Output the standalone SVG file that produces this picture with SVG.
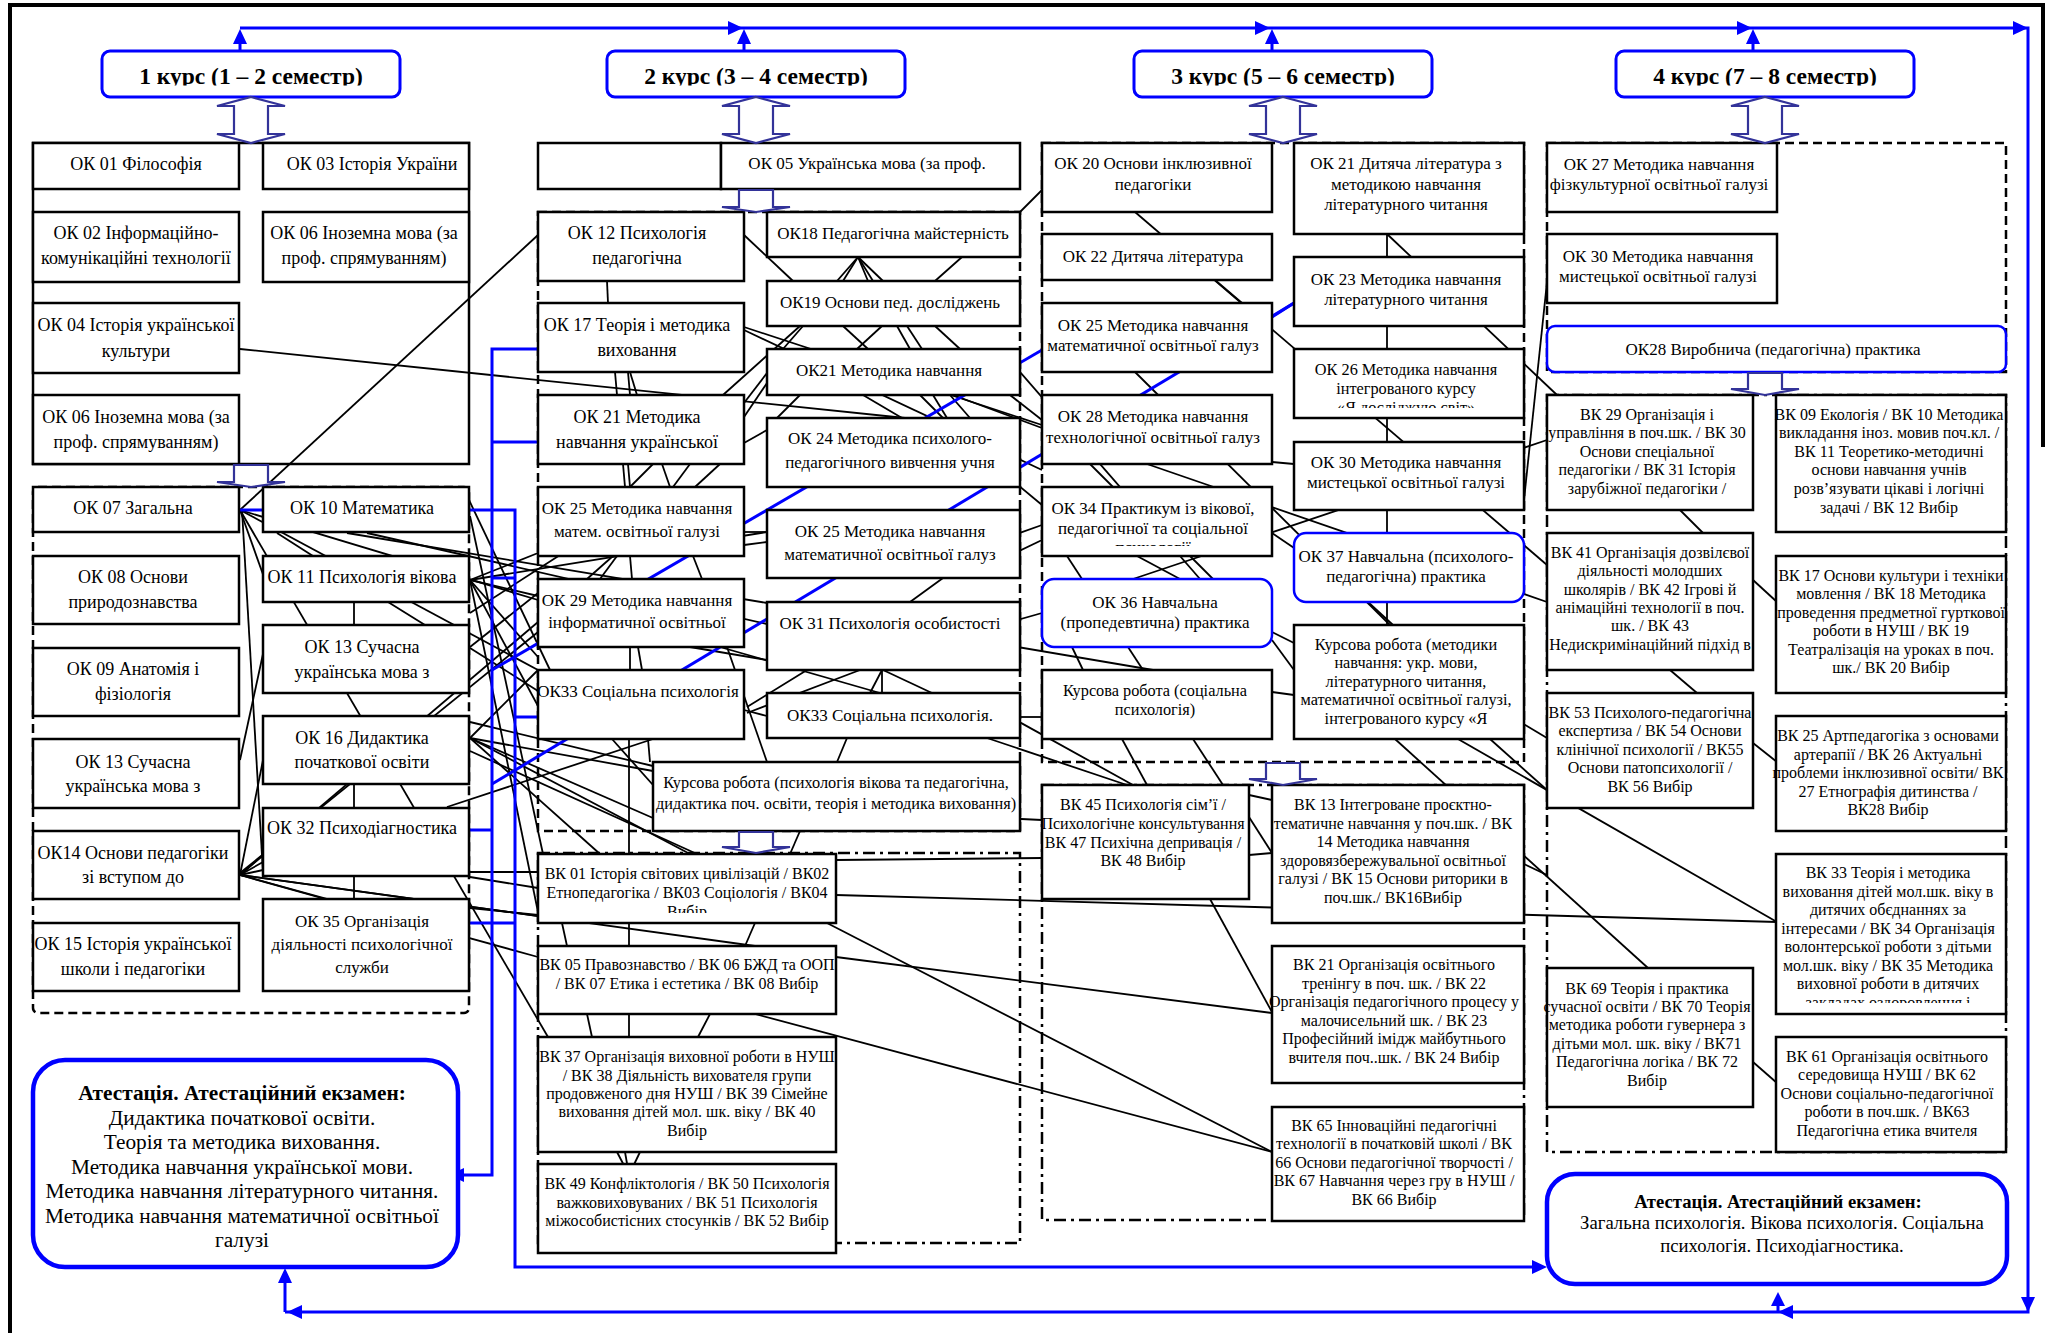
<svg xmlns="http://www.w3.org/2000/svg" width="2053" height="1333" viewBox="0 0 2053 1333">
<style>
text{font-family:"Liberation Serif","Times New Roman",serif;fill:#000;text-anchor:middle}
.t18{font-size:18px}.t17{font-size:17px}.t16{font-size:16.3px}.t15{font-size:16px}
.tt{font-size:23.5px;font-weight:bold}
.ta{font-size:21.3px}.tb{font-size:18.7px}
.b{font-weight:bold}
.box{fill:#fff;stroke:#000;stroke-width:2.5}
.bbox{fill:#fff;stroke:#0000ff;stroke-width:2.5}
.kbox{fill:#fff;stroke:#0000ff;stroke-width:3}
.att{fill:#fff;stroke:#0000ff;stroke-width:4.5}
.gd{fill:none;stroke:#000;stroke-width:2.5;stroke-dasharray:9 5}
.gdd{fill:none;stroke:#000;stroke-width:2.5;stroke-dasharray:12 5 3 5}
.gs{fill:none;stroke:#000;stroke-width:2.5}
.ln{stroke:#000;stroke-width:1.8;fill:none}
.bl{stroke:#0000ff;stroke-width:3;fill:none}
.ah{fill:#0000ff}
.ha{fill:#fff;stroke:#333399;stroke-width:2.2}
</style>
<defs>
<clipPath id="ct"><rect x="0" y="40" width="2053" height="45.5"/></clipPath>
<clipPath id="c408"><rect x="0" y="0" width="2053" height="408"/></clipPath>
<clipPath id="c546"><rect x="0" y="0" width="2053" height="546"/></clipPath>
<clipPath id="c913"><rect x="0" y="0" width="2053" height="913"/></clipPath>
<clipPath id="c1003"><rect x="0" y="0" width="2053" height="1003"/></clipPath>
</defs>
<rect width="2053" height="1333" fill="#fff"/>
<path d="M10,1333 V5 H2043 V447" fill="none" stroke="#000" stroke-width="4"/>

<g id="groups">
<rect class="gs" x="33" y="143" width="436" height="321"/>
<rect class="gd" x="33" y="487" width="436" height="526" rx="5"/>
<rect class="gd" x="538" y="212" width="482" height="619"/>
<rect class="gdd" x="538" y="853" width="482" height="390"/>
<rect class="gd" x="1042" y="143" width="482" height="619"/>
<rect class="gdd" x="1042" y="785" width="482" height="435"/>
<rect class="gd" x="1547" y="143" width="459" height="229"/>
<rect class="gdd" x="1547" y="395" width="459" height="757"/>
</g>

<g id="connectors">
<g class="ln">
<line x1="240" y1="510" x2="538" y2="235"/>
<line x1="240" y1="349" x2="905" y2="418"/>
<line x1="240" y1="510" x2="548" y2="1037"/>
<line x1="240" y1="510" x2="538" y2="600"/>
<line x1="240" y1="510" x2="538" y2="670"/>
<line x1="240" y1="510" x2="265" y2="580"/>
<line x1="242" y1="510" x2="263" y2="873"/>
<line x1="277" y1="533" x2="313" y2="556"/>
<line x1="347" y1="533" x2="767" y2="603"/>
<line x1="367" y1="533" x2="767" y2="624"/>
<line x1="469" y1="500" x2="550" y2="670"/>
<line x1="470" y1="516" x2="543" y2="854"/>
<line x1="354" y1="602" x2="354" y2="625"/>
<line x1="388" y1="602" x2="425" y2="625"/>
<line x1="470" y1="580" x2="538" y2="553"/>
<line x1="470" y1="580" x2="767" y2="532"/>
<line x1="470" y1="580" x2="538" y2="596"/>
<line x1="470" y1="580" x2="538" y2="657"/>
<line x1="470" y1="580" x2="538" y2="706"/>
<line x1="470" y1="580" x2="538" y2="912"/>
<line x1="470" y1="647" x2="538" y2="593"/>
<line x1="470" y1="648" x2="538" y2="691"/>
<line x1="240" y1="875" x2="538" y2="622"/>
<line x1="240" y1="873" x2="538" y2="632"/>
<line x1="240" y1="760" x2="266" y2="640"/>
<line x1="240" y1="875" x2="265" y2="750"/>
<line x1="240" y1="875" x2="263" y2="855"/>
<line x1="240" y1="875" x2="263" y2="862"/>
<line x1="240" y1="875" x2="263" y2="870"/>
<line x1="240" y1="875" x2="325" y2="899"/>
<line x1="240" y1="875" x2="538" y2="916"/>
<line x1="240" y1="875" x2="755" y2="946"/>
<line x1="240" y1="875" x2="538" y2="957"/>
<line x1="470" y1="738" x2="538" y2="670"/>
<line x1="470" y1="738" x2="653" y2="771"/>
<line x1="470" y1="738" x2="653" y2="818"/>
<line x1="470" y1="738" x2="690" y2="854"/>
<line x1="470" y1="738" x2="600" y2="854"/>
<line x1="470" y1="722" x2="653" y2="766"/>
<line x1="470" y1="751" x2="697" y2="854"/>
<line x1="447" y1="807" x2="653" y2="739"/>
<line x1="470" y1="872" x2="538" y2="872"/>
<line x1="470" y1="877" x2="538" y2="888"/>
<line x1="470" y1="908" x2="538" y2="915"/>
<line x1="354" y1="784" x2="354" y2="808"/>
<line x1="354" y1="876" x2="354" y2="899"/>
<line x1="560" y1="555" x2="470" y2="613"/>
<line x1="744" y1="235" x2="793" y2="281"/>
<line x1="607" y1="281" x2="608" y2="303"/>
<line x1="858" y1="257" x2="837" y2="281"/>
<line x1="858" y1="257" x2="843" y2="281"/>
<line x1="858" y1="257" x2="868" y2="281"/>
<line x1="858" y1="257" x2="873" y2="281"/>
<line x1="858" y1="257" x2="883" y2="281"/>
<line x1="962" y1="257" x2="935" y2="281"/>
<line x1="723" y1="395" x2="800" y2="326"/>
<line x1="843" y1="326" x2="868" y2="349"/>
<line x1="882" y1="326" x2="857" y2="349"/>
<line x1="897" y1="326" x2="910" y2="349"/>
<line x1="907" y1="326" x2="922" y2="349"/>
<line x1="935" y1="326" x2="960" y2="349"/>
<line x1="803" y1="326" x2="783" y2="349"/>
<line x1="744" y1="327" x2="1042" y2="425"/>
<line x1="744" y1="330" x2="1042" y2="470"/>
<line x1="800" y1="395" x2="777" y2="418"/>
<line x1="863" y1="395" x2="902" y2="418"/>
<line x1="920" y1="395" x2="943" y2="418"/>
<line x1="933" y1="395" x2="947" y2="418"/>
<line x1="950" y1="395" x2="970" y2="418"/>
<line x1="953" y1="395" x2="1042" y2="428"/>
<line x1="615" y1="372" x2="617" y2="395"/>
<line x1="628" y1="372" x2="630" y2="395"/>
<line x1="630" y1="372" x2="637" y2="395"/>
<line x1="744" y1="403" x2="767" y2="373"/>
<line x1="744" y1="417" x2="767" y2="383"/>
<line x1="744" y1="443" x2="767" y2="430"/>
<line x1="623" y1="464" x2="625" y2="487"/>
<line x1="628" y1="464" x2="630" y2="487"/>
<line x1="653" y1="464" x2="630" y2="487"/>
<line x1="662" y1="464" x2="670" y2="487"/>
<line x1="690" y1="464" x2="673" y2="487"/>
<line x1="720" y1="464" x2="695" y2="487"/>
<line x1="744" y1="532" x2="767" y2="532"/>
<line x1="744" y1="545" x2="767" y2="542"/>
<line x1="613" y1="556" x2="587" y2="579"/>
<line x1="617" y1="556" x2="600" y2="579"/>
<line x1="630" y1="556" x2="632" y2="579"/>
<line x1="693" y1="556" x2="702" y2="579"/>
<line x1="943" y1="578" x2="910" y2="602"/>
<line x1="630" y1="647" x2="630" y2="670"/>
<line x1="638" y1="647" x2="642" y2="670"/>
<line x1="690" y1="647" x2="767" y2="660"/>
<line x1="720" y1="647" x2="880" y2="693"/>
<line x1="727" y1="647" x2="767" y2="762"/>
<line x1="807" y1="670" x2="747" y2="707"/>
<line x1="860" y1="670" x2="747" y2="713"/>
<line x1="882" y1="670" x2="870" y2="693"/>
<line x1="882" y1="670" x2="882" y2="693"/>
<line x1="883" y1="670" x2="932" y2="693"/>
<line x1="744" y1="710" x2="767" y2="716"/>
<line x1="612" y1="739" x2="653" y2="785"/>
<line x1="648" y1="739" x2="650" y2="762"/>
<line x1="629" y1="739" x2="629" y2="854"/>
<line x1="847" y1="738" x2="837" y2="762"/>
<line x1="790" y1="854" x2="800" y2="831"/>
<line x1="562" y1="923" x2="567" y2="946"/>
<line x1="629" y1="923" x2="629" y2="946"/>
<line x1="755" y1="923" x2="745" y2="946"/>
<line x1="587" y1="1014" x2="592" y2="1037"/>
<line x1="629" y1="1014" x2="629" y2="1037"/>
<line x1="710" y1="1014" x2="698" y2="1037"/>
<line x1="617" y1="1152" x2="629" y2="1175"/>
<line x1="640" y1="1152" x2="629" y2="1175"/>
<line x1="625" y1="1152" x2="629" y2="1175"/>
<line x1="836" y1="895" x2="1777" y2="922"/>
<line x1="827" y1="923" x2="1272" y2="1152"/>
<line x1="836" y1="957" x2="1272" y2="1013"/>
<line x1="755" y1="1014" x2="1272" y2="1152"/>
<line x1="836" y1="860" x2="1042" y2="858"/>
<line x1="1000" y1="818" x2="1042" y2="820"/>
<line x1="1020" y1="212" x2="1042" y2="190"/>
<line x1="1000" y1="349" x2="1200" y2="579"/>
<line x1="1010" y1="395" x2="1042" y2="420"/>
<line x1="1000" y1="470" x2="1042" y2="505"/>
<line x1="1000" y1="540" x2="1042" y2="525"/>
<line x1="1000" y1="560" x2="1042" y2="540"/>
<line x1="1042" y1="613" x2="1000" y2="625"/>
<line x1="1000" y1="644" x2="1153" y2="670"/>
<line x1="1020" y1="717" x2="1042" y2="717"/>
<line x1="1005" y1="714" x2="1133" y2="785"/>
<line x1="987" y1="738" x2="1127" y2="785"/>
<line x1="1135" y1="212" x2="1547" y2="565"/>
<line x1="1387" y1="234" x2="1557" y2="395"/>
<line x1="1147" y1="464" x2="1547" y2="602"/>
<line x1="1135" y1="372" x2="1390" y2="625"/>
<line x1="1133" y1="579" x2="1547" y2="440"/>
<line x1="1524" y1="500" x2="1547" y2="282"/>
<line x1="1215" y1="280" x2="1242" y2="303"/>
<line x1="1387" y1="234" x2="1387" y2="257"/>
<line x1="1387" y1="326" x2="1387" y2="349"/>
<line x1="1387" y1="418" x2="1387" y2="442"/>
<line x1="1090" y1="464" x2="1113" y2="487"/>
<line x1="1272" y1="462" x2="1294" y2="464"/>
<line x1="1387" y1="510" x2="1387" y2="533"/>
<line x1="1067" y1="556" x2="1082" y2="579"/>
<line x1="1137" y1="556" x2="1180" y2="579"/>
<line x1="1190" y1="556" x2="1213" y2="579"/>
<line x1="1272" y1="533" x2="1297" y2="550"/>
<line x1="1272" y1="632" x2="1294" y2="643"/>
<line x1="1272" y1="640" x2="1294" y2="670"/>
<line x1="1072" y1="647" x2="1083" y2="670"/>
<line x1="1128" y1="647" x2="1143" y2="670"/>
<line x1="1387" y1="602" x2="1387" y2="625"/>
<line x1="1368" y1="602" x2="1393" y2="625"/>
<line x1="1272" y1="692" x2="1294" y2="695"/>
<line x1="1122" y1="739" x2="1147" y2="785"/>
<line x1="1193" y1="739" x2="1223" y2="785"/>
<line x1="1395" y1="739" x2="1648" y2="968"/>
<line x1="1458" y1="739" x2="1777" y2="922"/>
<line x1="1450" y1="680" x2="1547" y2="738"/>
<line x1="1490" y1="739" x2="1547" y2="790"/>
<line x1="1249" y1="795" x2="1272" y2="800"/>
<line x1="1249" y1="817" x2="1272" y2="853"/>
<line x1="1249" y1="855" x2="1272" y2="853"/>
<line x1="1210" y1="899" x2="1272" y2="1012"/>
<line x1="1524" y1="864" x2="1547" y2="875"/>
<line x1="1680" y1="510" x2="1703" y2="533"/>
<line x1="1670" y1="670" x2="1697" y2="693"/>
<line x1="1753" y1="580" x2="1777" y2="602"/>
<line x1="1753" y1="743" x2="1777" y2="762"/>
<line x1="1753" y1="1062" x2="1777" y2="1083"/>
</g>
<g class="bl">
<path d="M240,28 H2028 V1312 H285"/>
<line x1="240" y1="51" x2="240" y2="40"/>
<line x1="744" y1="51" x2="744" y2="40"/>
<line x1="1272" y1="51" x2="1272" y2="40"/>
<line x1="1753" y1="51" x2="1753" y2="40"/>
<line x1="285" y1="1312" x2="285" y2="1280"/>
<line x1="1778" y1="1312" x2="1778" y2="1304"/>
<path d="M538,349 H492 V1175 H462"/>
<line x1="492" y1="442" x2="538" y2="442"/>
<line x1="469" y1="830" x2="492" y2="830"/>
<path d="M240,510 H515 V1267 H1534"/>
<line x1="492" y1="578" x2="515" y2="578"/>
<line x1="515" y1="717" x2="538" y2="717"/>
<line x1="469" y1="923" x2="515" y2="923"/>
<line x1="492" y1="670" x2="1042" y2="350"/>
<line x1="492" y1="784" x2="1294" y2="303"/>
<line x1="1272" y1="317" x2="1294" y2="303"/>
</g>
<g class="ah">
<polygon points="743,28 728,21 728,35"/>
<polygon points="1270,28 1255,21 1255,35"/>
<polygon points="1752,28 1737,21 1737,35"/>
<polygon points="2028,28 2013,21 2013,35"/>
<polygon points="240,29 233,44 247,44"/>
<polygon points="744,29 737,44 751,44"/>
<polygon points="1272,29 1265,44 1279,44"/>
<polygon points="1753,29 1746,44 1760,44"/>
<polygon points="2028,1312 2021,1297 2035,1297"/>
<polygon points="1778,1312 1793,1305 1793,1319"/>
<polygon points="287,1312 302,1305 302,1319"/>
<polygon points="285,1268 278,1283 292,1283"/>
<polygon points="1778,1292 1771,1306 1785,1306"/>
<polygon points="449,1175 464,1168 464,1182"/>
<polygon points="1547,1267 1532,1260 1532,1274"/>
</g>
</g>

<g id="k1"><rect class="kbox" x="102" y="51" width="298" height="46" rx="8"/><text class="tt" x="251" y="84" clip-path="url(#ct)">1 курс (1 – 2 семестр)</text></g>
<g id="k2"><rect class="kbox" x="607" y="51" width="298" height="46" rx="8"/><text class="tt" x="756" y="84" clip-path="url(#ct)">2 курс (3 – 4 семестр)</text></g>
<g id="k3"><rect class="kbox" x="1134" y="51" width="298" height="46" rx="8"/><text class="tt" x="1283" y="84" clip-path="url(#ct)">3 курс (5 – 6 семестр)</text></g>
<g id="k4"><rect class="kbox" x="1616" y="51" width="298" height="46" rx="8"/><text class="tt" x="1765" y="84" clip-path="url(#ct)">4 курс (7 – 8 семестр)</text></g>

<g id="ok01"><rect class="box" x="33" y="143" width="206" height="46"/><text class="t18" x="136" y="170">ОК 01 Філософія</text></g>
<g id="ok03"><rect class="box" x="263" y="143" width="206" height="46"/><text class="t18" x="372" y="170">ОК 03 Історія України</text></g>
<g id="ok02"><rect class="box" x="33" y="212" width="206" height="70"/><text class="t18" x="136" y="239">ОК 02 Інформаційно-</text><text class="t18" x="136" y="264">комунікаційні технології</text></g>
<g id="ok06a"><rect class="box" x="263" y="212" width="206" height="70"/><text class="t18" x="364" y="239">ОК 06 Іноземна мова (за</text><text class="t18" x="364" y="264">проф. спрямуванням)</text></g>
<g id="ok04"><rect class="box" x="33" y="303" width="206" height="70"/><text class="t18" x="136" y="331">ОК 04 Історія української</text><text class="t18" x="136" y="357">культури</text></g>
<g id="ok06b"><rect class="box" x="33" y="395" width="206" height="69"/><text class="t18" x="136" y="423">ОК 06 Іноземна мова (за</text><text class="t18" x="136" y="448">проф. спрямуванням)</text></g>
<g id="ok07"><rect class="box" x="33" y="487" width="206" height="45"/><text class="t18" x="133" y="514">ОК 07 Загальна</text></g>
<g id="ok10"><rect class="box" x="263" y="487" width="206" height="45"/><text class="t18" x="362" y="514">ОК 10 Математика</text></g>
<g id="ok08"><rect class="box" x="33" y="556" width="206" height="68"/><text class="t18" x="133" y="583">ОК 08 Основи</text><text class="t18" x="133" y="608">природознавства</text></g>
<g id="ok11"><rect class="box" x="263" y="556" width="206" height="46"/><text class="t18" x="362" y="583">ОК 11 Психологія вікова</text></g>
<g id="ok13r"><rect class="box" x="263" y="625" width="206" height="68"/><text class="t18" x="362" y="653">ОК 13 Сучасна</text><text class="t18" x="362" y="678">українська мова з</text></g>
<g id="ok09"><rect class="box" x="33" y="648" width="206" height="68"/><text class="t18" x="133" y="675">ОК 09 Анатомія і</text><text class="t18" x="133" y="700">фізіологія</text></g>
<g id="ok16"><rect class="box" x="263" y="716" width="206" height="68"/><text class="t18" x="362" y="744">ОК 16 Дидактика</text><text class="t18" x="362" y="768">початкової освіти</text></g>
<g id="ok13l"><rect class="box" x="33" y="739" width="206" height="69"/><text class="t18" x="133" y="768">ОК 13 Сучасна</text><text class="t18" x="133" y="792">українська мова з</text></g>
<g id="ok32"><rect class="box" x="263" y="808" width="206" height="68"/><text class="t18" x="362" y="834">ОК 32 Психодіагностика</text></g>
<g id="ok14"><rect class="box" x="33" y="831" width="206" height="68"/><text class="t18" x="133" y="859">ОК14 Основи педагогіки</text><text class="t18" x="133" y="883">зі вступом до</text></g>
<g id="ok35"><rect class="box" x="263" y="899" width="206" height="92"/><text class="t17" x="362" y="927">ОК 35 Організація</text><text class="t17" x="362" y="950">діяльності психологічної</text><text class="t17" x="362" y="973">служби</text></g>
<g id="ok15"><rect class="box" x="33" y="923" width="206" height="68"/><text class="t18" x="133" y="950">ОК 15 Історія української</text><text class="t18" x="133" y="975">школи і педагогіки</text></g>
<g id="att1"><rect class="att" x="33" y="1060" width="425" height="207" rx="32"/>
<text class="ta b" x="242" y="1100">Атестація. Атестаційний екзамен:</text>
<text class="ta" x="242" y="1125">Дидактика початкової освіти.</text>
<text class="ta" x="242" y="1149">Теорія та методика виховання.</text>
<text class="ta" x="242" y="1174">Методика навчання української мови.</text>
<text class="ta" x="242" y="1198">Методика навчання літературного читання.</text>
<text class="ta" x="242" y="1223">Методика навчання математичної освітньої</text>
<text class="ta" x="242" y="1247">галузі</text></g>

<g id="blank"><rect class="box" x="538" y="143" width="183" height="46"/></g>
<g id="ok05"><rect class="box" x="721" y="143" width="299" height="46"/><text class="t17" x="867" y="169">ОК 05 Українська мова (за проф.</text></g>
<g id="ok12"><rect class="box" x="538" y="212" width="206" height="69"/><text class="t18" x="637" y="239">ОК 12 Психологія</text><text class="t18" x="637" y="264">педагогічна</text></g>
<g id="ok18"><rect class="box" x="767" y="212" width="253" height="45"/><text class="t17" x="893" y="239">ОК18 Педагогічна майстерність</text></g>
<g id="ok19"><rect class="box" x="767" y="281" width="253" height="45"/><text class="t17" x="890" y="308">ОК19 Основи пед. досліджень</text></g>
<g id="ok17"><rect class="box" x="538" y="303" width="206" height="69"/><text class="t18" x="637" y="331">ОК 17 Теорія і методика</text><text class="t18" x="637" y="356">виховання</text></g>
<g id="ok21"><rect class="box" x="767" y="349" width="253" height="46"/><text class="t17" x="889" y="376">ОК21 Методика навчання</text></g>
<g id="ok21u"><rect class="box" x="538" y="395" width="206" height="69"/><text class="t18" x="637" y="423">ОК 21 Методика</text><text class="t18" x="637" y="448">навчання української</text></g>
<g id="ok24"><rect class="box" x="767" y="418" width="253" height="69"/><text class="t17" x="890" y="444">ОК 24 Методика психолого-</text><text class="t17" x="890" y="468">педагогічного вивчення учня</text></g>
<g id="ok25a"><rect class="box" x="538" y="487" width="206" height="69"/><text class="t17" x="637" y="514">ОК 25 Методика навчання</text><text class="t17" x="637" y="537">матем. освітньої галузі</text></g>
<g id="ok25b"><rect class="box" x="767" y="510" width="253" height="68"/><text class="t17" x="890" y="537">ОК 25 Методика навчання</text><text class="t17" x="890" y="560">математичної освітньої галуз</text></g>
<g id="ok29"><rect class="box" x="538" y="579" width="206" height="68"/><text class="t17" x="637" y="606">ОК 29 Методика навчання</text><text class="t17" x="637" y="628">інформатичної освітньої</text></g>
<g id="ok31"><rect class="box" x="767" y="602" width="253" height="68"/><text class="t17" x="890" y="629">ОК 31 Психологія особистості</text></g>
<g id="ok33a"><rect class="box" x="538" y="670" width="206" height="69"/><text class="t17" x="638" y="697">ОК33 Соціальна психологія</text></g>
<g id="ok33b"><rect class="box" x="767" y="693" width="253" height="45"/><text class="t17" x="890" y="721">ОК33 Соціальна психологія.</text></g>
<g id="kurs1"><rect class="box" x="653" y="762" width="367" height="69"/><text class="t16" x="836" y="788">Курсова робота (психологія вікова та педагогічна,</text><text class="t16" x="836" y="809">дидактика поч. освіти, теорія і методика виховання)</text></g>
<g id="vk01"><rect class="box" x="538" y="854" width="298" height="69"/><text class="t15" x="687" y="879">ВК 01 Історія світових цивілізацій / ВК02</text><text class="t15" x="687" y="898">Етнопедагогіка / ВК03 Соціологія / ВК04</text><text class="t15" x="687" y="917" clip-path="url(#c913)">Вибір</text></g>
<g id="vk05"><rect class="box" x="538" y="946" width="298" height="68"/><text class="t15" x="687" y="970">ВК 05 Правознавство / ВК 06 БЖД та ООП</text><text class="t15" x="687" y="989">/ ВК 07 Етика і естетика / ВК 08 Вибір</text></g>
<g id="vk37"><rect class="box" x="538" y="1037" width="298" height="115"/><text class="t15" x="687" y="1062">ВК 37 Організація виховної роботи в НУШ</text><text class="t15" x="687" y="1081">/ ВК 38 Діяльність вихователя групи</text><text class="t15" x="687" y="1099">продовженого дня НУШ / ВК 39 Сімейне</text><text class="t15" x="687" y="1117">виховання дітей мол. шк. віку / ВК 40</text><text class="t15" x="687" y="1136">Вибір</text></g>
<g id="vk49"><rect class="box" x="538" y="1164" width="298" height="89"/><text class="t15" x="687" y="1189">ВК 49 Конфліктологія / ВК 50 Психологія</text><text class="t15" x="687" y="1208">важковиховуваних / ВК 51 Психологія</text><text class="t15" x="687" y="1226">міжособистісних стосунків / ВК 52 Вибір</text></g>

<g id="ok20"><rect class="box" x="1042" y="143" width="230" height="69"/><text class="t17" x="1153" y="169">ОК 20 Основи інклюзивної</text><text class="t17" x="1153" y="190">педагогіки</text></g>
<g id="ok21c"><rect class="box" x="1294" y="143" width="230" height="91"/><text class="t17" x="1406" y="169">ОК 21 Дитяча література з</text><text class="t17" x="1406" y="190">методикою навчання</text><text class="t17" x="1406" y="210">літературного читання</text></g>
<g id="ok22"><rect class="box" x="1042" y="234" width="230" height="46"/><text class="t17" x="1153" y="262">ОК 22 Дитяча література</text></g>
<g id="ok23"><rect class="box" x="1294" y="257" width="230" height="69"/><text class="t17" x="1406" y="285">ОК 23 Методика навчання</text><text class="t17" x="1406" y="305">літературного читання</text></g>
<g id="ok25c"><rect class="box" x="1042" y="303" width="230" height="69"/><text class="t17" x="1153" y="331">ОК 25 Методика навчання</text><text class="t17" x="1153" y="351">математичної освітньої галуз</text></g>
<g id="ok26"><rect class="box" x="1294" y="349" width="230" height="69"/><text class="t16" x="1406" y="375">ОК 26 Методика навчання</text><text class="t16" x="1406" y="394">інтегрованого курсу</text><text class="t16" x="1406" y="413" clip-path="url(#c408)">«Я досліджую світ»</text></g>
<g id="ok28c"><rect class="box" x="1042" y="395" width="230" height="69"/><text class="t17" x="1153" y="422">ОК 28 Методика навчання</text><text class="t17" x="1153" y="443">технологічної освітньої галуз</text></g>
<g id="ok30c"><rect class="box" x="1294" y="442" width="230" height="68"/><text class="t17" x="1406" y="468">ОК 30 Методика навчання</text><text class="t17" x="1406" y="488">мистецької освітньої галузі</text></g>
<g id="ok34"><rect class="box" x="1042" y="487" width="230" height="69"/><text class="t17" x="1153" y="514">ОК 34 Практикум із вікової,</text><text class="t17" x="1153" y="534">педагогічної  та соціальної</text><text class="t17" x="1153" y="553" clip-path="url(#c546)">психології</text></g>
<g id="ok37"><rect class="bbox" x="1294" y="533" width="230" height="69" rx="12"/><text class="t17" x="1406" y="562">ОК 37 Навчальна (психолого-</text><text class="t17" x="1406" y="582">педагогічна) практика</text></g>
<g id="ok36"><rect class="bbox" x="1042" y="579" width="230" height="68" rx="12"/><text class="t17" x="1155" y="608">ОК 36 Навчальна</text><text class="t17" x="1155" y="628">(пропедевтична) практика</text></g>
<g id="kurs3"><rect class="box" x="1294" y="625" width="230" height="114"/><text class="t16" x="1406" y="650">Курсова робота (методики</text><text class="t16" x="1406" y="668">навчання: укр. мови,</text><text class="t16" x="1406" y="687">літературного читання,</text><text class="t16" x="1406" y="705">математичної освітньої галузі,</text><text class="t16" x="1406" y="724">інтегрованого курсу «Я</text></g>
<g id="kurs2"><rect class="box" x="1042" y="670" width="230" height="69"/><text class="t16" x="1155" y="696">Курсова робота (соціальна</text><text class="t16" x="1155" y="715">психологія)</text></g>
<g id="vk45"><rect class="box" x="1042" y="785" width="207" height="114"/><text class="t15" x="1143" y="810">ВК 45 Психологія сім’ї  /</text><text class="t15" x="1143" y="829">Психологічне консультування</text><text class="t15" x="1143" y="848">ВК 47 Психічна депривація /</text><text class="t15" x="1143" y="866">ВК 48 Вибір</text></g>
<g id="vk13"><rect class="box" x="1272" y="785" width="252" height="138"/><text class="t15" x="1393" y="810">ВК 13 Інтегроване проєктно-</text><text class="t15" x="1393" y="829">тематичне навчання у поч.шк. / ВК</text><text class="t15" x="1393" y="847">14 Методика навчання</text><text class="t15" x="1393" y="866">здоровязбережувальної освітньої</text><text class="t15" x="1393" y="884">галузі / ВК 15 Основи риторики в</text><text class="t15" x="1393" y="903">поч.шк./ ВК16Вибір</text></g>
<g id="vk21"><rect class="box" x="1272" y="946" width="252" height="137"/><text class="t15" x="1394" y="970">ВК 21 Організація освітнього</text><text class="t15" x="1394" y="989">тренінгу в поч. шк. / ВК 22</text><text class="t15" x="1394" y="1007">Організація педагогічного процесу у</text><text class="t15" x="1394" y="1026">малочисельний шк. / ВК 23</text><text class="t15" x="1394" y="1044">Професійний імідж майбутнього</text><text class="t15" x="1394" y="1063">вчителя поч..шк. / ВК 24 Вибір</text></g>
<g id="vk65"><rect class="box" x="1272" y="1107" width="252" height="114"/><text class="t15" x="1394" y="1131">ВК 65 Інноваційні педагогічні</text><text class="t15" x="1394" y="1149">технології в початковій школі / ВК</text><text class="t15" x="1394" y="1168">66 Основи педагогічної творчості /</text><text class="t15" x="1394" y="1186">ВК 67 Навчання через гру в НУШ /</text><text class="t15" x="1394" y="1205">ВК 66 Вибір</text></g>

<g id="ok27"><rect class="box" x="1547" y="143" width="230" height="69"/><text class="t17" x="1659" y="170">ОК 27 Методика навчання</text><text class="t17" x="1659" y="190">фізкультурної освітньої галузі</text></g>
<g id="ok30d"><rect class="box" x="1547" y="234" width="230" height="69"/><text class="t17" x="1658" y="262">ОК 30 Методика навчання</text><text class="t17" x="1658" y="282">мистецької освітньої галузі</text></g>
<g id="ok28"><rect class="bbox" x="1547" y="326" width="459" height="46" rx="8"/><text class="t17" x="1773" y="355">ОК28 Виробнича (педагогічна) практика</text></g>
<g id="vk29"><rect class="box" x="1547" y="395" width="206" height="115"/><text class="t15" x="1647" y="420">ВК 29 Організація і</text><text class="t15" x="1647" y="438">управління в поч.шк. / ВК 30</text><text class="t15" x="1647" y="457">Основи спеціальної</text><text class="t15" x="1647" y="475">педагогіки / ВК 31 Історія</text><text class="t15" x="1647" y="494">зарубіжної педагогіки /</text></g>
<g id="vk09"><rect class="box" x="1776" y="395" width="230" height="137"/><text class="t15" x="1889" y="420">ВК 09 Екологія / ВК 10 Методика</text><text class="t15" x="1889" y="438">викладання іноз. мовив поч.кл. /</text><text class="t15" x="1889" y="457">ВК 11 Теоретико-методичні</text><text class="t15" x="1889" y="475">основи  навчання учнів</text><text class="t15" x="1889" y="494">розв’язувати цікаві і логічні</text><text class="t15" x="1889" y="513">задачі /  ВК 12 Вибір</text></g>
<g id="vk41"><rect class="box" x="1547" y="533" width="206" height="137"/><text class="t15" x="1650" y="558">ВК 41 Організація дозвілєвої</text><text class="t15" x="1650" y="576">діяльності молодших</text><text class="t15" x="1650" y="595">школярів / ВК 42 Ігрові й</text><text class="t15" x="1650" y="613">анімаційні технології в поч.</text><text class="t15" x="1650" y="631">шк. / ВК 43</text><text class="t15" x="1650" y="650">Недискримінаційний підхід в</text></g>
<g id="vk17"><rect class="box" x="1776" y="556" width="230" height="137"/><text class="t15" x="1891" y="581">ВК 17 Основи культури і техніки</text><text class="t15" x="1891" y="599">мовлення / ВК 18 Методика</text><text class="t15" x="1891" y="618">проведення предметної гурткової</text><text class="t15" x="1891" y="636">роботи в НУШ / ВК 19</text><text class="t15" x="1891" y="655">Театралізація на уроках в поч.</text><text class="t15" x="1891" y="673">шк./ ВК 20 Вибір</text></g>
<g id="vk53"><rect class="box" x="1547" y="693" width="206" height="115"/><text class="t15" x="1650" y="718">ВК 53 Психолого-педагогічна</text><text class="t15" x="1650" y="736">експертиза / ВК 54 Основи</text><text class="t15" x="1650" y="755">клінічної психології / ВК55</text><text class="t15" x="1650" y="773">Основи патопсихології /</text><text class="t15" x="1650" y="792">ВК 56 Вибір</text></g>
<g id="vk25"><rect class="box" x="1776" y="716" width="230" height="115"/><text class="t15" x="1888" y="741">ВК 25 Артпедагогіка з основами</text><text class="t15" x="1888" y="760">артерапії / ВК 26 Актуальні</text><text class="t15" x="1888" y="778">проблеми інклюзивної освіти/ ВК</text><text class="t15" x="1888" y="797">27  Етнографія дитинства /</text><text class="t15" x="1888" y="815">ВК28 Вибір</text></g>
<g id="vk33"><rect class="box" x="1776" y="854" width="230" height="160"/><text class="t15" x="1888" y="878">ВК 33 Теорія і методика</text><text class="t15" x="1888" y="897">виховання дітей мол.шк. віку в</text><text class="t15" x="1888" y="915">дитячих обєднаннях за</text><text class="t15" x="1888" y="934">інтересами / ВК 34 Організація</text><text class="t15" x="1888" y="952">волонтерської роботи з дітьми</text><text class="t15" x="1888" y="971">мол.шк. віку / ВК 35 Методика</text><text class="t15" x="1888" y="989">виховної роботи в дитячих</text><text class="t15" x="1888" y="1008" clip-path="url(#c1003)">закладах оздоровлення і</text></g>
<g id="vk69"><rect class="box" x="1547" y="968" width="206" height="139"/><text class="t15" x="1647" y="994">ВК 69 Теорія і практика</text><text class="t15" x="1647" y="1012">сучасної освіти / ВК 70 Теорія</text><text class="t15" x="1647" y="1030">методика роботи гувернера з</text><text class="t15" x="1647" y="1049">дітьми мол. шк. віку / ВК71</text><text class="t15" x="1647" y="1067">Педагогічна логіка / ВК 72</text><text class="t15" x="1647" y="1086">Вибір</text></g>
<g id="vk61"><rect class="box" x="1776" y="1037" width="230" height="115"/><text class="t15" x="1887" y="1062">ВК 61 Організація освітнього</text><text class="t15" x="1887" y="1080">середовища НУШ / ВК 62</text><text class="t15" x="1887" y="1099">Основи соціально-педагогічної</text><text class="t15" x="1887" y="1117">роботи в поч.шк. / ВК63</text><text class="t15" x="1887" y="1136">Педагогічна етика вчителя</text></g>
<g id="att2"><rect class="att" x="1547" y="1174" width="460" height="110" rx="28"/>
<text class="tb b" x="1778" y="1208">Атестація. Атестаційний екзамен:</text>
<text class="tb" x="1782" y="1229">Загальна психологія. Вікова психологія. Соціальна</text>
<text class="tb" x="1782" y="1252">психологія. Психодіагностика.</text></g>

<g id="hollow-arrows">
<polygon class="ha" points="251,97 285,106 268,106 268,134 285,134 251,143 217,134 234,134 234,106 217,106"/>
<polygon class="ha" points="756,97 790,106 773,106 773,134 790,134 756,143 722,134 739,134 739,106 722,106"/>
<polygon class="ha" points="1283,97 1317,106 1300,106 1300,134 1317,134 1283,143 1249,134 1266,134 1266,106 1249,106"/>
<polygon class="ha" points="1765,97 1799,106 1782,106 1782,134 1799,134 1765,143 1731,134 1748,134 1748,106 1731,106"/>
<polygon class="ha" points="234,465 234,482 217,482 251,487 285,482 268,482 268,465"/>
<polygon class="ha" points="739,190 739,207 722,207 756,212 790,207 773,207 773,190"/>
<polygon class="ha" points="739,832 739,847 722,847 756,853 790,847 773,847 773,832"/>
<polygon class="ha" points="1266,763 1266,779 1249,779 1283,785 1317,779 1300,779 1300,763"/>
<polygon class="ha" points="1748,373 1748,389 1731,389 1765,395 1799,389 1782,389 1782,373"/>
</g>
</svg>
